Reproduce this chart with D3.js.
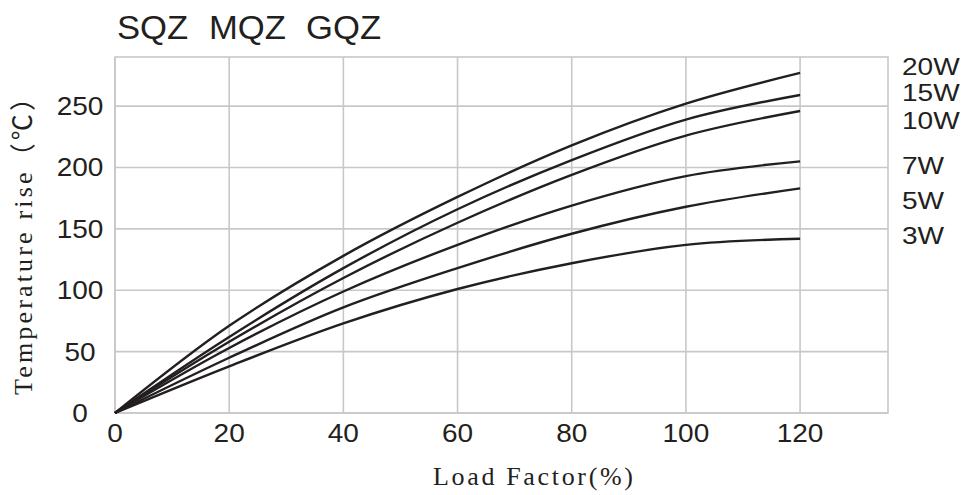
<!DOCTYPE html>
<html>
<head>
<meta charset="utf-8">
<script src="https://cdn.jsdelivr.net/npm/d3@7"></script>
<style>
  html, body { margin: 0; padding: 0; background: #fff; }
  svg { display: block; }
</style>
</head>
<body>
<svg id="chart" width="963" height="495"></svg>
<script>
// ---- data ----
const loadFactor = [0, 20, 40, 60, 80, 100, 120];
const seriesNames = ["20W", "15W", "10W", "7W", "5W", "3W"];
const rise20W = [0, 71, 128, 176, 218, 252, 277];
const rise15W = [0, 62, 118, 166, 206, 239, 259];
const rise10W = [0, 58, 110, 155, 194, 226, 246];
const rise7W  = [0, 53, 99, 137, 169, 193, 205];
const rise5W  = [0, 45, 86, 118, 146, 168, 183];
const rise3W  = [0, 38, 73, 101, 122, 137, 142];
const xTicks = [0, 20, 40, 60, 80, 100, 120];
const yTicks = [0, 50, 100, 150, 200, 250];
const titleWords = ["SQZ", "MQZ", "GQZ"];

const seriesValues = [rise20W, rise15W, rise10W, rise7W, rise5W, rise3W];

// ---- layout ----
const svg = d3.select("#chart");
const mLeft = 115, mRight = 888, mTop = 57, mBottom = 413;
const x = d3.scaleLinear().domain([0, 135.4]).range([mLeft, mRight]);
const y = d3.scaleLinear().domain([0, 290]).range([mBottom, mTop]);
const ink = "#231f20";
const grid = "#c8c8c8";
const sans = "Liberation Sans, Arial, sans-serif";

// grid
const g = svg.append("g");
g.selectAll("line.vx").data(xTicks).join("line")
  .attr("x1", d => x(d)).attr("x2", d => x(d))
  .attr("y1", mTop).attr("y2", mBottom)
  .attr("stroke", grid).attr("stroke-width", 1.6);
g.selectAll("line.hy").data(yTicks).join("line")
  .attr("y1", d => y(d)).attr("y2", d => y(d))
  .attr("x1", mLeft).attr("x2", mRight)
  .attr("stroke", grid).attr("stroke-width", 1.6);
g.append("rect").attr("x", mLeft).attr("y", mTop)
  .attr("width", mRight - mLeft).attr("height", mBottom - mTop)
  .attr("fill", "none").attr("stroke", grid).attr("stroke-width", 1.6);

// tick labels (slightly widened glyphs, like the reference)
svg.selectAll("text.xt").data(xTicks).join("text")
  .attr("transform", d => `translate(${x(d)},442) scale(1.12,1)`)
  .attr("text-anchor", "middle")
  .attr("font-family", sans)
  .attr("font-size", 25).attr("fill", ink)
  .text(d => d);
svg.selectAll("text.yt").data(yTicks).join("text")
  .attr("transform", d => `translate(80,${y(d)}) scale(1.12,1)`)
  .attr("dy", "0.36em")
  .attr("text-anchor", "middle")
  .attr("font-family", sans)
  .attr("font-size", 25).attr("fill", ink)
  .text(d => d);

// curves
const line = d3.line()
  .x((d, i) => x(loadFactor[i]))
  .y(d => y(d))
  .curve(d3.curveCatmullRom.alpha(0.5));
svg.selectAll("path.s").data(seriesValues).join("path")
  .attr("d", d => line(d))
  .attr("fill", "none").attr("stroke", ink).attr("stroke-width", 2.4);

// series labels at right
const labelBaselines = [75, 101, 129, 174, 209, 244];
svg.selectAll("text.sl").data(seriesNames).join("text")
  .attr("transform", (d, i) => `translate(902,${labelBaselines[i]}) scale(1.17,1)`)
  .attr("font-family", sans)
  .attr("font-size", 24).attr("fill", ink)
  .text(d => d);

// title
const titleX = [117, 209, 306];
svg.selectAll("text.title").data(titleWords).join("text")
  .attr("transform", (d, i) => `translate(${titleX[i]},39) scale(1.05,1)`)
  .attr("font-family", sans)
  .attr("font-size", 33).attr("fill", ink)
  .text(d => d);

// axis titles
svg.append("text")
  .attr("x", 533).attr("y", 485)
  .attr("text-anchor", "middle")
  .attr("font-family", "Liberation Serif, 'Times New Roman', serif")
  .attr("font-size", 26).attr("fill", ink)
  .attr("textLength", 200).attr("lengthAdjust", "spacing")
  .text("Load Factor(%)");
svg.append("text")
  .attr("transform", "translate(32,240) rotate(-90)")
  .attr("text-anchor", "middle")
  .attr("font-family", "Liberation Serif, 'Times New Roman', 'Noto Sans CJK SC', serif")
  .attr("font-size", 26).attr("fill", ink)
  .attr("textLength", 310).attr("lengthAdjust", "spacing")
  .text("Temperature rise（℃）");
</script>
</body>
</html>
